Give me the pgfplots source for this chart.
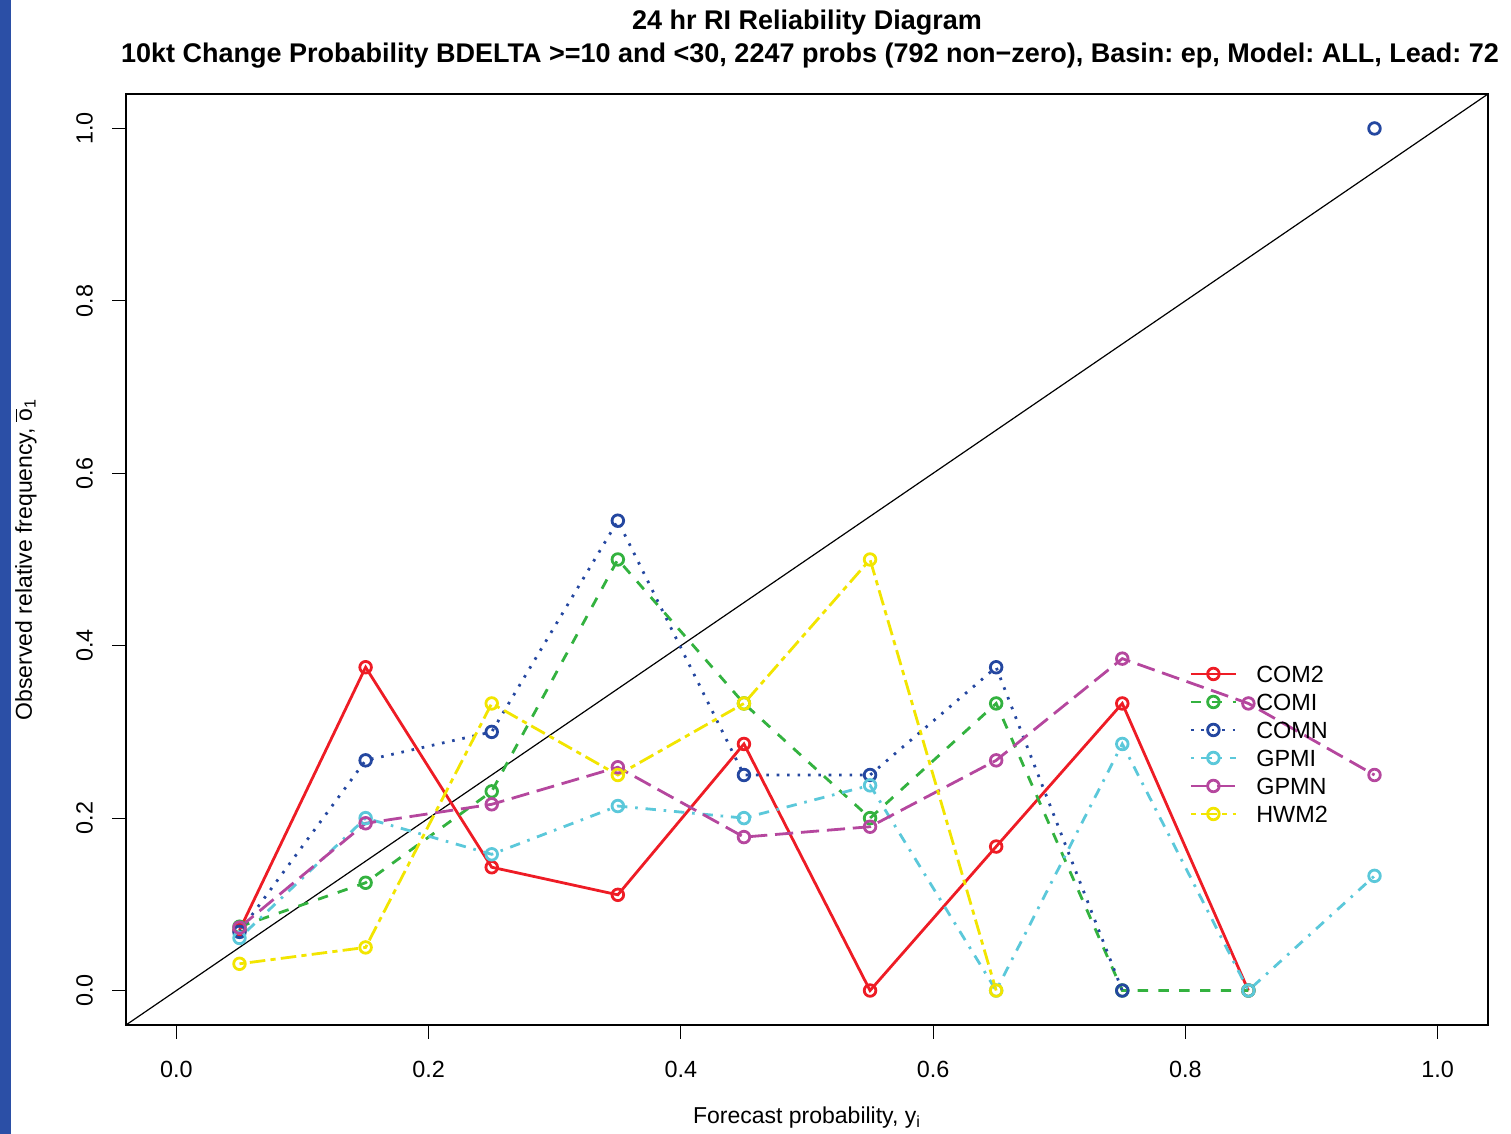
\documentclass[border=0pt]{standalone}
\usepackage{pgfplots}
\pgfplotsset{compat=1.18}
\usepackage{amsmath}
\usepackage{fontspec}
\setmainfont{Liberation Sans}
\frenchspacing
\definecolor{cRed}{HTML}{EE1C25}
\definecolor{cGreen}{HTML}{33B23F}
\definecolor{cBlue}{HTML}{2447A0}
\definecolor{cCyan}{HTML}{5BC8DA}
\definecolor{cMag}{HTML}{B5479E}
\definecolor{cYel}{HTML}{F2E500}
\definecolor{strip}{HTML}{2B4FA6}
\begin{document}
\begin{tikzpicture}
\begin{axis}[
  at={(0,0)}, anchor=south west,
  scale only axis, width=681pt, height=465.5pt,
  xmin=-0.04, xmax=1.04, ymin=-0.04, ymax=1.04,
  axis line style={black, line width=0.55pt},
  xtick={0,0.2,0.4,0.6,0.8,1}, ytick={0,0.2,0.4,0.6,0.8,1},
  xtick pos=left, ytick pos=left,
  tick align=outside, major tick length=7pt,
  tick style={black, line width=0.55pt},
  /pgf/number format/fixed, /pgf/number format/fixed zerofill,
  /pgf/number format/precision=1, /pgf/number format/assume math mode=true,
  tick label style={font=\fontsize{11.7}{13}\selectfont},
  yticklabel style={rotate=90, anchor=south},
  xticklabel shift=7.5pt, yticklabel shift=6pt,
  unbounded coords=jump,
  legend cell align=left,
  legend style={draw=none, fill=none, inner sep=0pt,
    at={(axis cs:0.803,0.286)}, anchor=west,
    font=\fontsize{11.7}{13}\selectfont,
    nodes={inner sep=1pt, text height=8.4pt, text depth=0pt},
    row sep=3.6pt, column sep=8.5pt},
  legend image code/.code={\draw[mark repeat=2,mark phase=2] plot coordinates {(0pt,0pt) (11.25pt,0pt) (22.5pt,0pt)};},
  every axis plot/.append style={line width=1.4pt, mark=o, mark size=2.9pt,
     mark options={solid, fill=white, line width=1.4pt}},
]
\addplot[black, line width=0.6pt, mark=none, forget plot] coordinates {(-0.04,-0.04) (1.04,1.04)};
% COM2
\addplot[cRed, solid] coordinates {(0.05,0.070) (0.15,0.375) (0.25,0.143) (0.35,0.111) (0.45,0.286) (0.55,0.0) (0.65,0.167) (0.75,0.333) (0.85,0.0)};
% COMI
\addplot[cGreen, dash pattern=on 5.2pt off 5.2pt] coordinates {(0.05,0.074) (0.15,0.125) (0.25,0.231) (0.35,0.5) (0.45,0.333) (0.55,0.2) (0.65,0.333) (0.75,0.0) (0.85,0.0)};
% COMN
\addplot[cBlue, dash pattern=on 1.3pt off 3.9pt] coordinates {(0.05,0.068) (0.15,0.267) (0.25,0.3) (0.35,0.545) (0.45,0.25) (0.55,0.25) (0.65,0.375) (0.75,0.0) (0.85,nan) (0.95,1.0)};
% GPMI
\addplot[cCyan, dash pattern=on 1.3pt off 3.9pt on 5.2pt off 3.9pt] coordinates {(0.05,0.061) (0.15,0.2) (0.25,0.158) (0.35,0.214) (0.45,0.2) (0.55,0.238) (0.65,0.0) (0.75,0.286) (0.85,0.0) (0.95,0.133)};
% GPMN
\addplot[cMag, dash pattern=on 9.1pt off 3.9pt] coordinates {(0.05,0.073) (0.15,0.194) (0.25,0.216) (0.35,0.259) (0.45,0.178) (0.55,0.19) (0.65,0.267) (0.75,0.385) (0.85,0.333) (0.95,0.25)};
% HWM2
\addplot[cYel, dash pattern=on 2.6pt off 2.6pt on 7.8pt off 2.6pt] coordinates {(0.05,0.031) (0.15,0.05) (0.25,0.333) (0.35,0.25) (0.45,0.333) (0.55,0.5) (0.65,0.0)};
\legend{COM2,COMI,COMN,GPMI,GPMN,HWM2}
\end{axis}
\fill[strip] (-63pt,-54.5pt) rectangle (-57.5pt,512.5pt);
\node[font=\bfseries\fontsize{13.5}{15}\selectfont, anchor=base] at (340.5pt,497.5pt) {24 hr RI Reliability Diagram};
\node[font=\bfseries\fontsize{13.5}{15}\selectfont, anchor=base] at (342pt,481pt) {10kt Change Probability BDELTA >=10 and <30, 2247 probs (792 non−zero), Basin: ep, Model: ALL, Lead: 72};
\node[font=\fontsize{11.5}{13}\selectfont, anchor=base, inner sep=0pt] at (340.5pt,-49.5pt) {Forecast probability, y$_{\text{i}}$};
\node[font=\fontsize{11.5}{13}\selectfont, anchor=base, rotate=90, inner sep=0pt] at (-47pt,232.75pt) {Observed relative frequency, $\overline{\text{o}}_{\text{1}}$};
\pgfresetboundingbox
\path (-63pt,-54.5pt) rectangle (692.5pt,512.5pt);
\end{tikzpicture}
\end{document}
